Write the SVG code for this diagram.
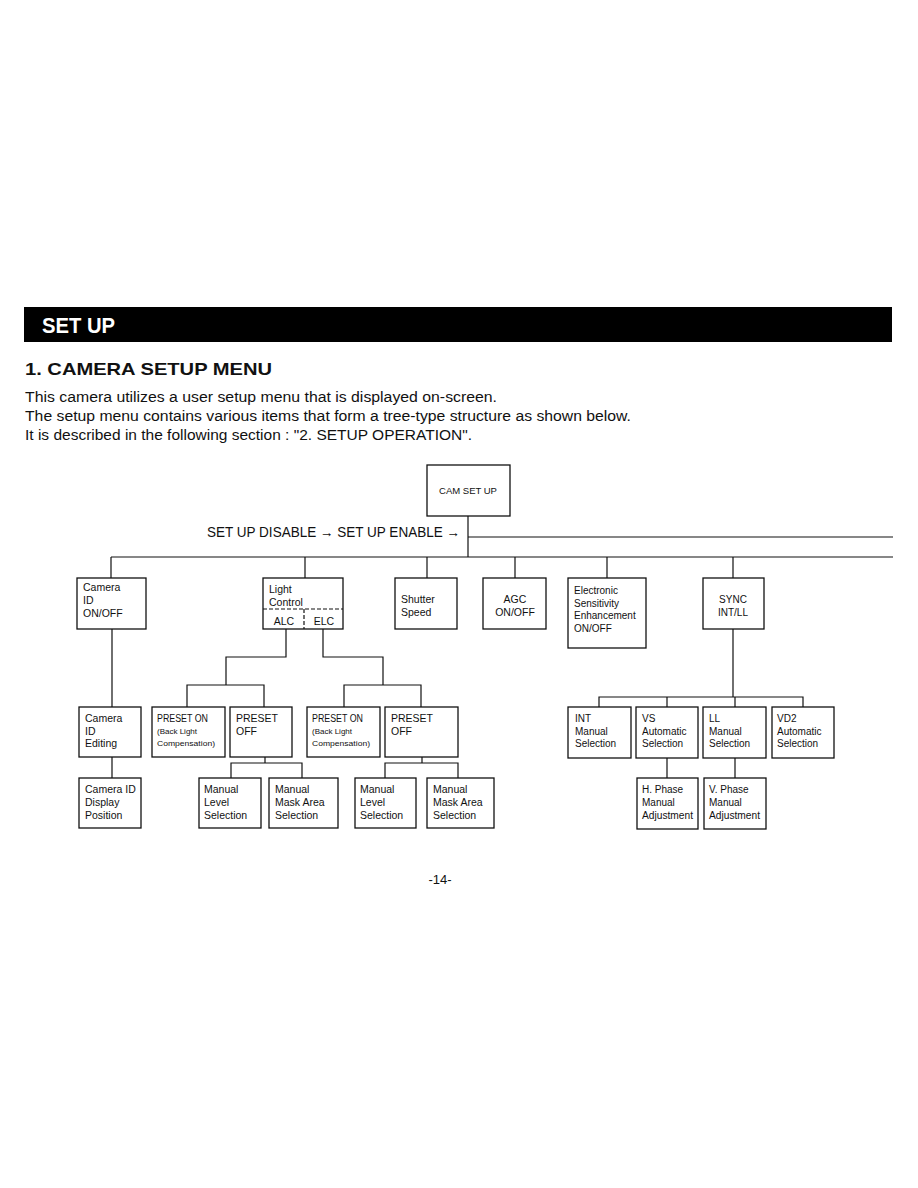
<svg xmlns="http://www.w3.org/2000/svg" width="918" height="1188" viewBox="0 0 918 1188">
<style>
text{font-family:"Liberation Sans",Arial,sans-serif;fill:#111}
.b{fill:#fff;stroke:#111;stroke-width:1.3}
.t{font-size:10.5px}
.s{font-size:8px}
.m{font-size:10px}
.c{stroke:#111;stroke-width:1.2;fill:none}
.d{stroke:#111;stroke-width:1.2;fill:none;stroke-dasharray:4 2}
.body{font-size:14px}
</style>
<rect width="918" height="1188" fill="#fff"/>
<g id="header">
<rect x="24" y="307" width="868" height="35" fill="#000"/>
<text x="42" y="333" font-size="22" font-weight="bold" style="fill:#fff" textLength="73" lengthAdjust="spacingAndGlyphs">SET UP</text>
<text x="25" y="375" font-size="17" font-weight="bold" textLength="247" lengthAdjust="spacingAndGlyphs">1. CAMERA SETUP MENU</text>
<text class="body" x="25" y="402" textLength="472" lengthAdjust="spacingAndGlyphs">This camera utilizes a user setup menu that is displayed on-screen.</text>
<text class="body" x="25" y="421" textLength="606" lengthAdjust="spacingAndGlyphs">The setup menu contains various items that form a tree-type structure as shown below.</text>
<text class="body" x="25" y="440" textLength="447" lengthAdjust="spacingAndGlyphs">It is described in the following section : "2. SETUP OPERATION".</text>
</g>
<g id="connectors">
<path class="c" d="M468 516V557M468 537H893M111 557H893"/>
<path class="c" d="M111 557V578M305 557V578M427 557V578M515 557V578M607 557V578M733 557V578"/>
<path class="c" d="M112 629V707M112 757V778"/>
<path class="c" d="M286 629V657H226V685M323 629V657H383V685"/>
<path class="c" d="M187 707V685H264V707M344 707V685H421V707"/>
<path class="c" d="M265 757V763M231 778V763H302V778M422 757V763M385 778V763H458V778"/>
<path class="c" d="M733 629V697M599 707V697H803V707M667 697V707M735 697V707"/>
<path class="c" d="M667 758V778M735 758V778"/>
</g>
<g id="cam-set-up"><rect class="b" x="427" y="465" width="83" height="51"/><text x="468" y="494" font-size="9.5" text-anchor="middle">CAM SET UP</text></g>
<g id="mode-label"><text x="207" y="537" font-size="14.5" textLength="253" lengthAdjust="spacingAndGlyphs">SET UP DISABLE → SET UP ENABLE →</text></g>
<g id="camera-id-onoff"><rect class="b" x="77" y="578" width="69" height="51"/><text class="t" x="83" y="591">Camera</text><text class="t" x="83" y="604">ID</text><text class="t" x="83" y="617">ON/OFF</text></g>
<g id="light-control"><rect class="b" x="263" y="578" width="80" height="51"/><text class="t" x="269" y="593">Light</text><text class="t" x="269" y="606">Control</text><path class="d" d="M263 609H343M304 609V629"/><text class="t" x="284" y="625" text-anchor="middle">ALC</text><text class="t" x="324" y="625" text-anchor="middle">ELC</text></g>
<g id="shutter-speed"><rect class="b" x="395" y="578" width="62" height="51"/><text class="t" x="401" y="603">Shutter</text><text class="t" x="401" y="616">Speed</text></g>
<g id="agc"><rect class="b" x="483" y="578" width="63" height="51"/><text class="t" x="515" y="603" text-anchor="middle">AGC</text><text class="t" x="515" y="616" text-anchor="middle">ON/OFF</text></g>
<g id="electronic"><rect class="b" x="568" y="578" width="78" height="70"/><text class="m" x="574" y="594">Electronic</text><text class="m" x="574" y="607">Sensitivity</text><text class="m" x="574" y="619">Enhancement</text><text class="m" x="574" y="632">ON/OFF</text></g>
<g id="sync"><rect class="b" x="703" y="578" width="61" height="51"/><text class="m" x="733" y="603" text-anchor="middle">SYNC</text><text class="m" x="733" y="616" text-anchor="middle">INT/LL</text></g>
<g id="camera-id-editing"><rect class="b" x="79" y="707" width="62" height="50"/><text class="t" x="85" y="722">Camera</text><text class="t" x="85" y="735">ID</text><text class="t" x="85" y="747">Editing</text></g>
<g id="camera-id-display"><rect class="b" x="79" y="778" width="62" height="50"/><text class="t" x="85" y="793">Camera ID</text><text class="t" x="85" y="806">Display</text><text class="t" x="85" y="819">Position</text></g>
<g id="alc-preset-on"><rect class="b" x="152" y="707" width="73" height="50"/><text class="m" x="157" y="722" textLength="51" lengthAdjust="spacingAndGlyphs">PRESET ON</text><text class="s" x="157" y="734">(Back Light</text><text class="s" x="157" y="746" textLength="58" lengthAdjust="spacingAndGlyphs">Compensation)</text></g>
<g id="alc-preset-off"><rect class="b" x="230" y="707" width="62" height="50"/><text class="t" x="236" y="722">PRESET</text><text class="t" x="236" y="735">OFF</text></g>
<g id="elc-preset-on"><rect class="b" x="307" y="707" width="73" height="50"/><text class="m" x="312" y="722" textLength="51" lengthAdjust="spacingAndGlyphs">PRESET ON</text><text class="s" x="312" y="734">(Back Light</text><text class="s" x="312" y="746" textLength="58" lengthAdjust="spacingAndGlyphs">Compensation)</text></g>
<g id="elc-preset-off"><rect class="b" x="385" y="707" width="73" height="50"/><text class="t" x="391" y="722">PRESET</text><text class="t" x="391" y="735">OFF</text></g>
<g id="alc-manual-level"><rect class="b" x="199" y="778" width="62" height="50"/><text class="t" x="204" y="793">Manual</text><text class="t" x="204" y="806">Level</text><text class="t" x="204" y="819">Selection</text></g>
<g id="alc-manual-mask"><rect class="b" x="269" y="778" width="69" height="50"/><text class="t" x="275" y="793">Manual</text><text class="t" x="275" y="806">Mask Area</text><text class="t" x="275" y="819">Selection</text></g>
<g id="elc-manual-level"><rect class="b" x="355" y="778" width="61" height="50"/><text class="t" x="360" y="793">Manual</text><text class="t" x="360" y="806">Level</text><text class="t" x="360" y="819">Selection</text></g>
<g id="elc-manual-mask"><rect class="b" x="427" y="778" width="67" height="50"/><text class="t" x="433" y="793">Manual</text><text class="t" x="433" y="806">Mask Area</text><text class="t" x="433" y="819">Selection</text></g>
<g id="int"><rect class="b" x="568" y="707" width="63" height="51"/><text class="m" x="575" y="722">INT</text><text class="m" x="575" y="735">Manual</text><text class="m" x="575" y="747">Selection</text></g>
<g id="vs"><rect class="b" x="636" y="707" width="62" height="51"/><text class="m" x="642" y="722">VS</text><text class="m" x="642" y="735">Automatic</text><text class="m" x="642" y="747">Selection</text></g>
<g id="ll"><rect class="b" x="703" y="707" width="63" height="51"/><text class="m" x="709" y="722">LL</text><text class="m" x="709" y="735">Manual</text><text class="m" x="709" y="747">Selection</text></g>
<g id="vd2"><rect class="b" x="772" y="707" width="62" height="51"/><text class="m" x="777" y="722">VD2</text><text class="m" x="777" y="735">Automatic</text><text class="m" x="777" y="747">Selection</text></g>
<g id="h-phase"><rect class="b" x="637" y="778" width="61" height="51"/><text class="m" x="642" y="793">H. Phase</text><text class="m" x="642" y="806">Manual</text><text class="m" x="642" y="819" textLength="51" lengthAdjust="spacingAndGlyphs">Adjustment</text></g>
<g id="v-phase"><rect class="b" x="704" y="778" width="62" height="51"/><text class="m" x="709" y="793">V. Phase</text><text class="m" x="709" y="806">Manual</text><text class="m" x="709" y="819" textLength="51" lengthAdjust="spacingAndGlyphs">Adjustment</text></g>
<g id="page-number"><text x="440" y="884" font-size="13" text-anchor="middle">-14-</text></g>
</svg>
